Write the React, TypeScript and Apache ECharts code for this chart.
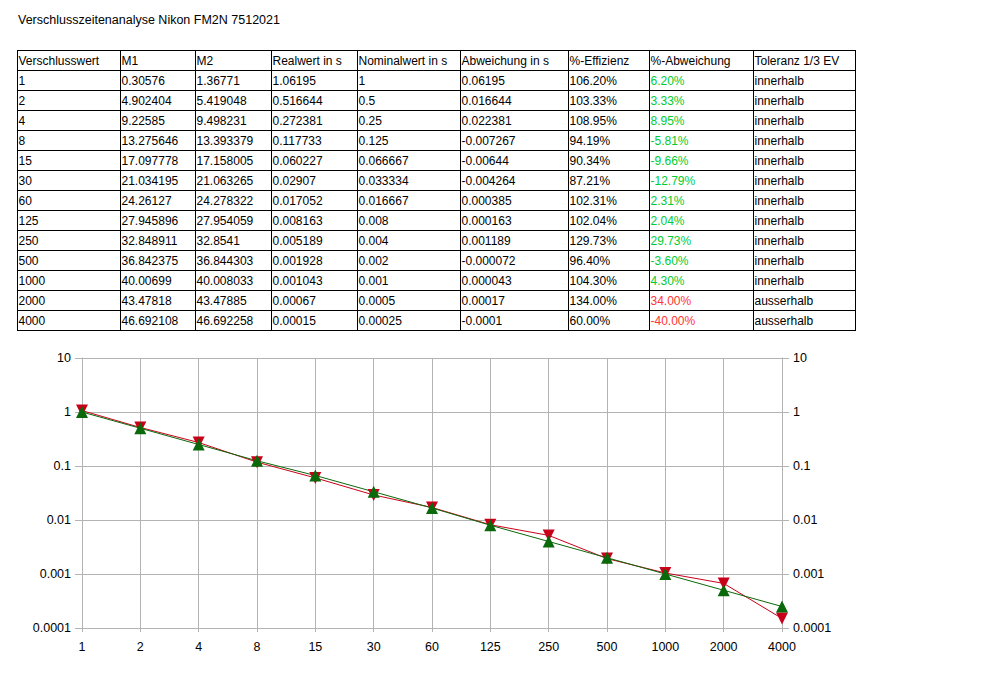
import React, { useEffect, useRef } from "react";
import * as echarts from "echarts";

const title = "Verschlusszeitenanalyse Nikon FM2N 7512021";
const headers = ["Verschlusswert", "M1", "M2", "Realwert in s", "Nominalwert in s", "Abweichung in s", "%-Effizienz", "%-Abweichung", "Toleranz 1/3 EV"];
const shutter = ["1", "2", "4", "8", "15", "30", "60", "125", "250", "500", "1000", "2000", "4000"];
const m1 = ["0.30576", "4.902404", "9.22585", "13.275646", "17.097778", "21.034195", "24.26127", "27.945896", "32.848911", "36.842375", "40.00699", "43.47818", "46.692108"];
const m2 = ["1.36771", "5.419048", "9.498231", "13.393379", "17.158005", "21.063265", "24.278322", "27.954059", "32.8541", "36.844303", "40.008033", "43.47885", "46.692258"];
const realwert = [1.06195, 0.516644, 0.272381, 0.117733, 0.060227, 0.02907, 0.017052, 0.008163, 0.005189, 0.001928, 0.001043, 0.00067, 0.00015];
const nominal = [1, 0.5, 0.25, 0.125, 0.066667, 0.033334, 0.016667, 0.008, 0.004, 0.002, 0.001, 0.0005, 0.00025];
const abweichung = ["0.06195", "0.016644", "0.022381", "-0.007267", "-0.00644", "-0.004264", "0.000385", "0.000163", "0.001189", "-0.000072", "0.000043", "0.00017", "-0.0001"];
const effizienz = ["106.20%", "103.33%", "108.95%", "94.19%", "90.34%", "87.21%", "102.31%", "102.04%", "129.73%", "96.40%", "104.30%", "134.00%", "60.00%"];
const pctAbw = ["6.20%", "3.33%", "8.95%", "-5.81%", "-9.66%", "-12.79%", "2.31%", "2.04%", "29.73%", "-3.60%", "4.30%", "34.00%", "-40.00%"];
const toleranz = ["innerhalb", "innerhalb", "innerhalb", "innerhalb", "innerhalb", "innerhalb", "innerhalb", "innerhalb", "innerhalb", "innerhalb", "innerhalb", "ausserhalb", "ausserhalb"];

const FONT = "'Liberation Sans', Arial, sans-serif";
const colX = [17, 120, 195, 271, 357, 460, 568, 649, 753, 855];
const tableTop = 50;
const rowH = 20;

function buildTable() {
  const els: any[] = [];
  const nRows = shutter.length + 1;
  const bottom = tableTop + nRows * rowH;
  for (let i = 0; i <= nRows; i++) {
    const y = tableTop + i * rowH + 0.5;
    els.push({ type: "line", shape: { x1: colX[0], y1: y, x2: colX[colX.length - 1] + 1, y2: y }, style: { stroke: "#000", lineWidth: 1 } });
  }
  colX.forEach((x) => {
    els.push({ type: "line", shape: { x1: x + 0.5, y1: tableTop, x2: x + 0.5, y2: bottom + 1 }, style: { stroke: "#000", lineWidth: 1 } });
  });
  const addText = (txt: string, c: number, r: number, color = "#000") => {
    els.push({
      type: "text",
      x: colX[c] + 1.5,
      y: tableTop + r * rowH + rowH / 2 + 1,
      style: { text: txt, fill: color, font: `12px ${FONT}`, textVerticalAlign: "middle", textAlign: "left" },
    });
  };
  headers.forEach((h, c) => addText(h, c, 0));
  shutter.forEach((s, i) => {
    const r = i + 1;
    const cols = [s, m1[i], m2[i], String(realwert[i]), String(nominal[i]), abweichung[i], effizienz[i], pctAbw[i], toleranz[i]];
    cols.forEach((v, c) => {
      let color = "#000";
      if (c === 7) color = toleranz[i] === "innerhalb" ? "#00cc33" : "#ff3333";
      addText(v, c, r, color);
    });
  });
  els.push({ type: "text", x: 18, y: 20, style: { text: title, fill: "#000", font: `12.5px ${FONT}`, textVerticalAlign: "middle" } });
  return els;
}

const fmt = (v: number) => String(Number(v.toPrecision(1)));

export default function App() {
  const ref = useRef<HTMLDivElement>(null);
  useEffect(() => {
    const chart = echarts.init(ref.current!, null, { renderer: "svg" });
    const yBase = (pos: "left" | "right") => ({
      type: "log",
      logBase: 10,
      min: 0.0001,
      max: 10,
      position: pos,
      axisLine: { show: true, lineStyle: { color: "#b3b3b3" } },
      axisTick: { show: true, length: 7, lineStyle: { color: "#b3b3b3" } },
      splitLine: { show: true, lineStyle: { color: "#b3b3b3", width: 1 } },
      axisLabel: { formatter: fmt, color: "#000", fontSize: 12.5, fontFamily: FONT, margin: 11 },
    });
    chart.setOption({
      animation: false,
      textStyle: { fontFamily: FONT },
      graphic: buildTable(),
      grid: { left: 82, right: 213, top: 358, bottom: 53, containLabel: false },
      xAxis: {
        type: "category",
        data: shutter,
        boundaryGap: false,
        axisLine: { show: true, lineStyle: { color: "#b3b3b3" } },
        axisTick: { show: true, length: 4, alignWithLabel: true, lineStyle: { color: "#b3b3b3" } },
        splitLine: { show: true, lineStyle: { color: "#b3b3b3", width: 1 } },
        axisLabel: { color: "#000", fontSize: 12.5, fontFamily: FONT, margin: 12, interval: 0 },
      },
      yAxis: [yBase("left"), yBase("right")],
      series: [
        {
          name: "Realwert in s",
          type: "line",
          data: realwert,
          yAxisIndex: 0,
          symbol: "triangle",
          symbolRotate: 180,
          symbolSize: 12,
          itemStyle: { color: "#c9001a" },
          lineStyle: { color: "#c9001a", width: 1 },
        },
        {
          name: "Nominalwert in s",
          type: "line",
          data: nominal,
          yAxisIndex: 0,
          symbol: "triangle",
          symbolSize: 12,
          itemStyle: { color: "#0a690a" },
          lineStyle: { color: "#0a690a", width: 1 },
        },
      ],
    });
    return () => chart.dispose();
  }, []);
  return <div ref={ref} style={{ position: "fixed", left: 0, top: 0, width: 995, height: 681, background: "#fff" }} />;
}
